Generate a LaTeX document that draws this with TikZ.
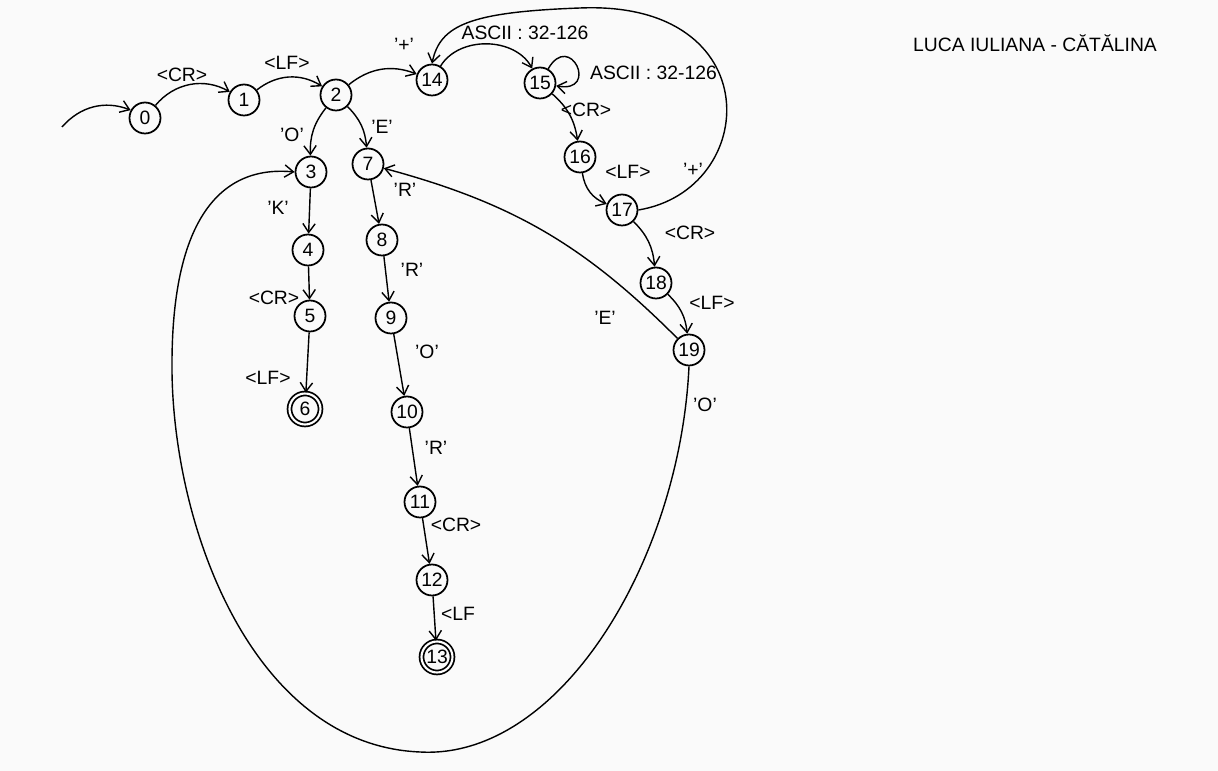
\documentclass[tikz,border=0pt]{standalone}
\usepackage{fontspec}
\setmainfont{Liberation Sans}
\usetikzlibrary{arrows.meta, positioning}

\begin{document}
\begin{tikzpicture}[
  x=0.02cm, y=0.02cm,
  state/.style  = {circle, draw, line width=1pt, minimum size=0.62cm,
                   inner sep=0pt, font=\fontsize{11}{13}\selectfont},
  accept/.style = {state, double, double distance=1.2pt},
  arr/.style    = {-{Straight Barb[length=5pt,width=7pt]}, line width=0.8pt},
  lbl/.style    = {font=\fontsize{11}{13}\selectfont, inner sep=1pt},
]

%% ── Page ────────────────────────────────────────────────────────────────
\fill[gray!4] (0,0) rectangle (1218,771);
\useasboundingbox (0,0) rectangle (1218,771);

%% ── Top row ─────────────────────────────────────────────────────────────
\coordinate (start) at (62,644);
\node[state] (s0)  at (145,653) {0};
\node[state] (s1)  at (244,671) {1};
\node[state] (s2)  at (336,676) {2};
\node[state] (s14) at (432,691) {14};
\node[state] (s15) at (540,688) {15};

%% ── Right branch ────────────────────────────────────────────────────────
\node[state] (s16) at (580,614) {16};
\node[state] (s17) at (622,561) {17};
\node[state] (s18) at (656,488) {18};
\node[state] (s19) at (689,421) {19};

%% ── Left column ─────────────────────────────────────────────────────────
\node[state]  (s3) at (311,599) {3};
\node[state]  (s4) at (308,521) {4};
\node[state]  (s5) at (310,455) {5};
\node[accept] (s6) at (305,362) {6};

%% ── Middle column ───────────────────────────────────────────────────────
\node[state]  (s7)  at (368,607) {7};
\node[state]  (s8)  at (382,531) {8};
\node[state]  (s9)  at (391,453) {9};
\node[state]  (s10) at (407,359) {10};
\node[state]  (s11) at (420,269) {11};
\node[state]  (s12) at (432,191) {12};
\node[accept] (s13) at (437,114) {13};

%% ── Arrows ──────────────────────────────────────────────────────────────
\draw[arr] (start) to[bend left=35] (s0);
\draw[arr] (s0)  to[bend left=40] (s1);
\draw[arr] (s1)  to[bend left=35] (s2);
\draw[arr] (s2)  to[bend left=30] (s14);
\draw[arr] (s14) to[bend left=60] (s15);
\draw[arr] (s15) to[out=60, in=-10, looseness=6] (s15);
\draw[arr] (s15) to[bend left=20] (s16);
\draw[arr] (s16) to[bend right=30] (s17);
\draw[arr] (s17) to[bend left=20] (s18);
\draw[arr] (s18) to[bend left=20] (s19);
\draw[arr] (s2)  to[bend right=20] (s3);
\draw[arr] (s2)  to[bend left=20] (s7);
\draw[arr] (s3)  -- (s4);
\draw[arr] (s4)  -- (s5);
\draw[arr] (s5)  -- (s6);
\draw[arr] (s7)  -- (s8);
\draw[arr] (s8)  -- (s9);
\draw[arr] (s9)  -- (s10);
\draw[arr] (s10) -- (s11);
\draw[arr] (s11) -- (s12);
\draw[arr] (s12) -- (s13);
\draw[arr] (s19) to[bend right=15] (s7);
\draw[arr] (s17.east) .. controls (760,581) and (770,771) .. (580,763)
                      .. controls (470,759) and (440,746) .. (s14.north);
\draw[arr] (s19.south) .. controls (680,211) and (560,11) .. (420,19)
                       .. controls (250,26) and (170,251) .. (172,411)
                       .. controls (173,551) and (220,606) .. (s3.west);

%% ── Labels ──────────────────────────────────────────────────────────────
\node[lbl] (lcr01)  at (182,696) {<CR>};
\node[lbl] (llf12)  at (287,708) {<LF>};
\node[lbl] (lpl214) at (404,726) {'+'};
\node[lbl] (las14)  at (525,738) {ASCII : 32-126};
\node[lbl, anchor=west] (las15) at (588,698) {ASCII : 32-126};
\node[lbl] (lcr1516) at (586,661) {<CR>};
\node[lbl] (llf1617) at (628,599) {<LF>};
\node[lbl] (lpl1714) at (693,601) {'+'};
\node[lbl] (lcr1718) at (690,538) {<CR>};
\node[lbl] (llf1819) at (712,468) {<LF>};
\node[lbl] (le197)   at (605,453) {'E'};
\node[lbl] (lo193)   at (705,366) {'O'};
\node[lbl] (lo23)    at (292,636) {'O'};
\node[lbl] (le27)    at (382,644) {'E'};
\node[lbl] (lk34)    at (278,563) {'K'};
\node[lbl] (lcr45)   at (274,473) {<CR>};
\node[lbl] (llf56)   at (268,393) {<LF>};
\node[lbl] (lr78)    at (405,581) {'R'};
\node[lbl] (lr89)    at (412,501) {'R'};
\node[lbl] (lo910)   at (427,419) {'O'};
\node[lbl] (lr1011)  at (436,323) {'R'};
\node[lbl] (lcr1112) at (456,246) {<CR>};
\node[lbl] (llf1213) at (458,157) {<LF};

%% ── Title ───────────────────────────────────────────────────────────────
\node[lbl] (title) at (1035,728) {LUCA IULIANA - CĂTĂLINA};

\end{tikzpicture}
\end{document}
